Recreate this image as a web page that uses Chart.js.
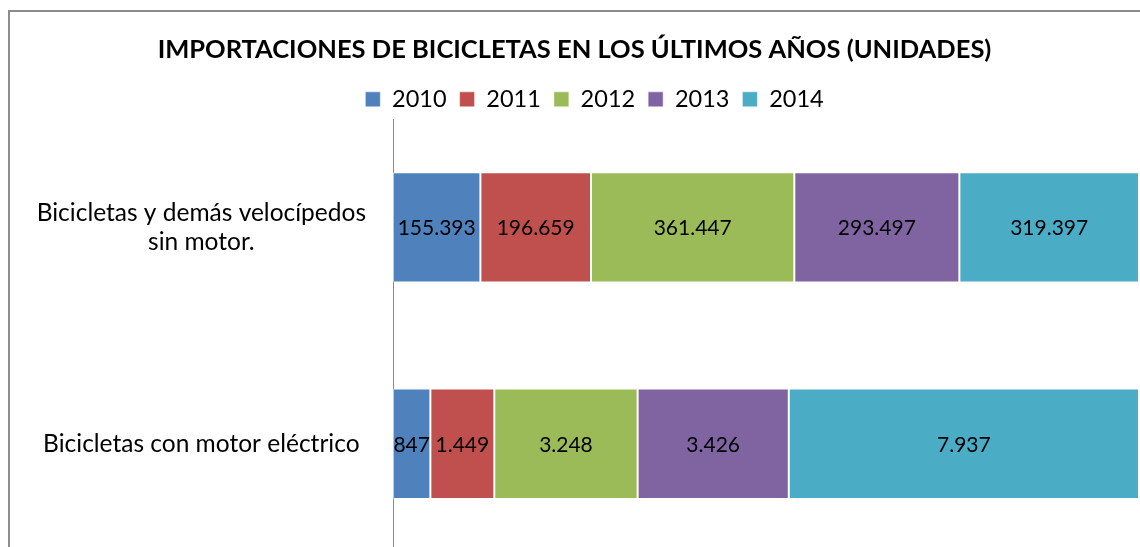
<!DOCTYPE html>
<html>
<head>
<meta charset="utf-8">
<script src="https://cdn.jsdelivr.net/npm/chart.js@4.4.1/dist/chart.umd.min.js"></script>
<style>
  body { margin: 0; background: #fff; overflow: hidden; width: 1140px; height: 547px; position: relative; }
  #frame { position: absolute; left: 8px; top: 10px; width: 1200px; height: 600px; border-left: 2px solid #8c8c8c; border-top: 2px solid #8c8c8c; }
  #chart-1 { position: absolute; left: 0; top: 0; }
</style>
</head>
<body>
<div id="frame"></div>
<canvas id="chart-1" width="1140" height="560"></canvas>
<script>
var categories = [["Bicicletas y demás velocípedos", "sin motor."], "Bicicletas con motor eléctrico"];
var years = ["2010", "2011", "2012", "2013", "2014"];
var units_2010 = [155393, 847];
var units_2011 = [196659, 1449];
var units_2012 = [361447, 3248];
var units_2013 = [293497, 3426];
var units_2014 = [319397, 7937];
var colors = ["#4F81BD", "#C0504D", "#9BBB59", "#8064A2", "#4BACC6"];

var all_units = [units_2010, units_2011, units_2012, units_2013, units_2014];
var totals = [];
for (let c = 0; c < categories.length; c++) {
    let t = 0;
    for (let s = 0; s < all_units.length; s++) t += all_units[s][c];
    totals.push(t);
}

function fmt(n) {
    return String(n).replace(/\B(?=(\d{3})+(?!\d))/g, ".");
}

var datasets = [];
for (let s = 0; s < years.length; s++) {
    datasets.push({
        label: years[s],
        data: all_units[s].map(function(v, c) { return v / totals[c] * 100; }),
        raw: all_units[s],
        backgroundColor: colors[s],
        borderColor: "rgba(255,255,255,0.5)",
        borderWidth: 1,
        borderSkipped: false,
        barPercentage: 0.51,
        categoryPercentage: 1,
    });
}

var valueLabels = {
    id: "valueLabels",
    afterDatasetsDraw: function(chart) {
        const ctx = chart.ctx;
        ctx.save();
        ctx.font = "21px Lato";
        ctx.fillStyle = "#000";
        ctx.textAlign = "center";
        ctx.textBaseline = "middle";
        chart.data.datasets.forEach(function(ds, i) {
            const meta = chart.getDatasetMeta(i);
            meta.data.forEach(function(bar, j) {
                const p = bar.getCenterPoint();
                ctx.fillText(fmt(ds.raw[j]), p.x, p.y + 1);
            });
        });
        ctx.restore();
    },
};

// legend in the original sits a bit right of centre and lower
var legendShift = {
    id: "legendShift",
    afterLayout: function(chart) {
        chart.legend.left += 20;
        chart.legend.right += 20;
        chart.legend.top += 2;
        chart.legend.bottom += 2;
    },
};

const ctx = document.getElementById("chart-1").getContext("2d");
const myChart = new Chart(ctx, {
    type: "bar",
    data: {
        labels: categories,
        datasets: datasets,
    },
    plugins: [valueLabels, legendShift],
    options: {
        indexAxis: "y",
        responsive: false,
        animation: false,
        layout: {
            padding: { left: 10, right: 1, top: 22, bottom: 8 },
        },
        plugins: {
            title: {
                display: true,
                text: "IMPORTACIONES DE BICICLETAS EN LOS ÚLTIMOS AÑOS (UNIDADES)",
                color: "#000",
                font: { family: "Lato", size: 25.5, weight: "bold" },
                padding: { top: 12, bottom: 8 },
            },
            legend: {
                display: true,
                labels: {
                    color: "#000",
                    boxWidth: 15,
                    boxHeight: 15,
                    padding: 13,
                    font: { family: "Lato", size: 23.5 },
                },
            },
            tooltip: { enabled: false },
        },
        scales: {
            x: {
                stacked: true,
                min: 0,
                max: 100,
                display: false,
            },
            y: {
                stacked: true,
                grid: { display: false, drawTicks: false },
                border: { display: true, color: "#8c8c8c", width: 1 },
                ticks: {
                    color: "#000",
                    crossAlign: "center",
                    padding: 27,
                    font: { family: "Lato", size: 24.5 },
                },
                afterFit: function(scale) {
                    scale.width = 383;
                    scale.paddingTop = 0;
                    scale.paddingBottom = 0;
                },
            },
        },
    },
});
</script>
</body>
</html>
